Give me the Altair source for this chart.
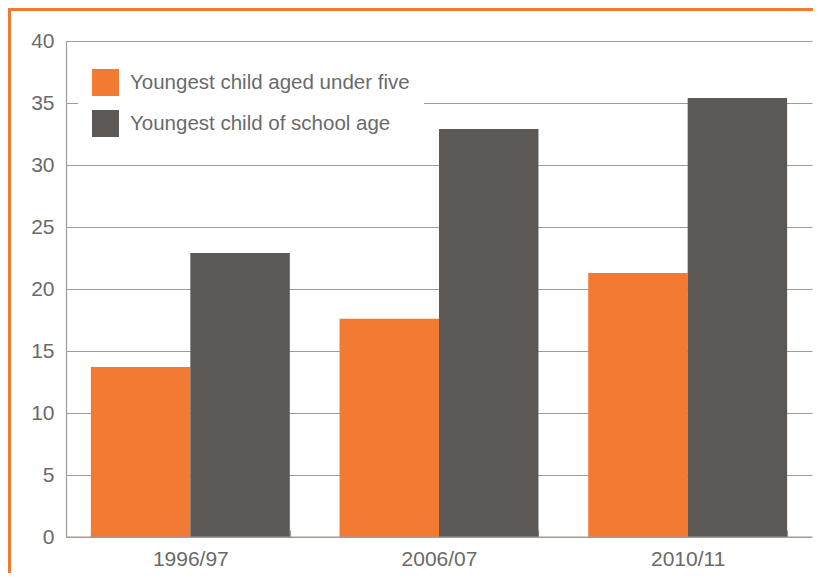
import altair as alt
import pandas as pd

years = ["1996/97", "2006/07", "2010/11"]
series = ["Youngest child aged under five", "Youngest child of school age"]
under_five = [13.7, 17.6, 21.3]
school_age = [22.9, 32.9, 35.4]
colors = ["#F27A33", "#5B5855"]

rows = []
for i, y in enumerate(years):
    rows.append({"year": y, "series": series[0], "value": under_five[i]})
    rows.append({"year": y, "series": series[1], "value": school_age[i]})
df = pd.DataFrame(rows)

TEXT = "#6a6a6a"
GRID = "#a19b97"
FONT = "Liberation Sans"

bars = alt.Chart(df).mark_bar().encode(
    x=alt.X("year:N", sort=years,
            scale=alt.Scale(paddingInner=0.2, paddingOuter=0.1),
            axis=alt.Axis(title=None, labelAngle=0, tickBand="extent", offset=-7,
                          tickSize=7, domain=False, ticks=True, tickColor=GRID,
                          tickWidth=1.2, labelFontSize=21, labelColor=TEXT,
                          labelFont=FONT, labelPadding=11, grid=False)),
    xOffset=alt.XOffset("series:N", sort=series),
    y=alt.Y("value:Q", scale=alt.Scale(domain=[0, 40], nice=False),
            axis=alt.Axis(title=None, values=list(range(0, 41, 5)), grid=True,
                          gridColor=GRID, gridWidth=1.2, domainColor=GRID,
                          domainWidth=1.2, ticks=False, labelFontSize=21,
                          labelColor=TEXT, labelFont=FONT, labelPadding=12)),
    color=alt.Color("series:N", sort=series,
                    scale=alt.Scale(domain=series, range=colors),
                    legend=alt.Legend(title=None, orient="none", legendX=12, legendY=14,
                                      fillColor="white", padding=14,
                                      symbolType="square", symbolSize=729,
                                      symbolStrokeWidth=0, symbolOpacity=1,
                                      labelFontSize=20.5, labelColor=TEXT, labelFont=FONT,
                                      labelOffset=11, rowPadding=14, labelLimit=500)),
)

one = pd.DataFrame({"a": [0]})
zero_rule = alt.Chart(one).mark_rule(color=GRID, strokeWidth=1.2).encode(y=alt.datum(0))

border_left = alt.Chart(one).mark_rule(color="#F07B34", strokeWidth=3).encode(
    x=alt.value(-56.5), y=alt.value(-33), y2=alt.value(540))
border_top = alt.Chart(one).mark_rule(color="#F07B34", strokeWidth=3).encode(
    x=alt.value(-58), x2=alt.value(760), y=alt.value(-31.5))

chart = alt.layer(bars, zero_rule, border_left, border_top).properties(
    width=746, height=496,
    autosize=alt.AutoSizeParams(type="none"),
    padding={"left": 58, "top": 33, "right": 1, "bottom": 36},
).configure_view(stroke=None)

chart.save("out.html", embed_options={"renderer": "svg", "actions": False})
